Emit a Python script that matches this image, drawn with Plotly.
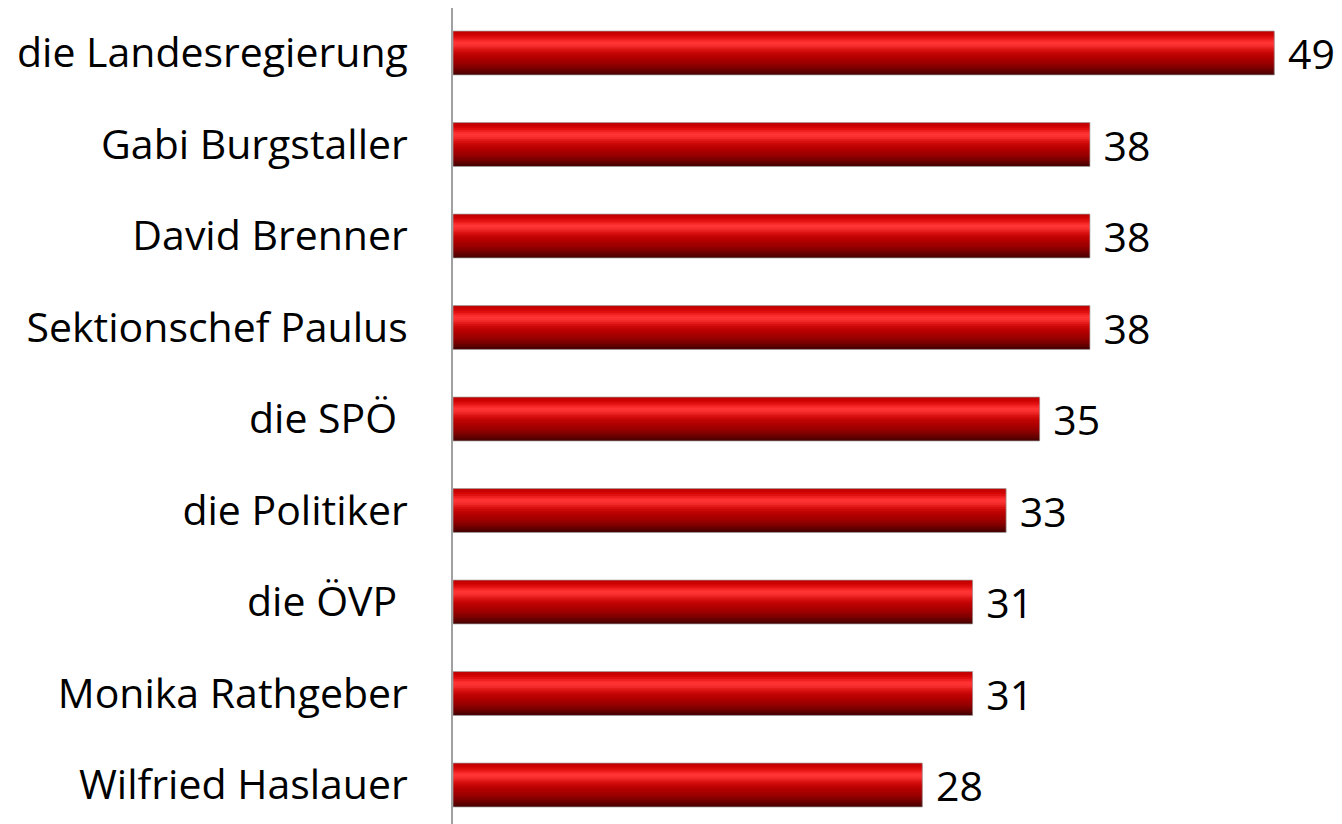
import plotly.graph_objects as go

categories = ["die Landesregierung", "Gabi Burgstaller", "David Brenner", "Sektionschef Paulus",
              "die SPÖ\u00a0", "die Politiker", "die ÖVP\u00a0", "Monika Rathgeber", "Wilfried Haslauer"]
values = [49, 38, 38, 38, 35, 33, 31, 31, 28]

# vertical gradient stripes for the bar (top -> bottom)
stripe_colors = ["#c20000", "#ca0202", "#d40606", "#e01010", "#ee1e1e", "#fa2c2c", "#ff3434",
                 "#fa3030", "#f02828", "#e41c1c", "#d81010", "#cc0808", "#c20404", "#ba0202",
                 "#b20000", "#aa0000", "#a20000", "#9a0000", "#900000", "#840000", "#760000",
                 "#680000", "#5a0000", "#4c0000"]
bar_h = 0.48
n = len(stripe_colors)
sh = bar_h / n

fig = go.Figure()
for i, c in enumerate(stripe_colors):
    w = sh * 1.8 if i < n - 1 else sh
    fig.add_trace(go.Bar(
        x=values, y=categories, orientation="h",
        offset=-bar_h / 2 + i * sh, width=w,
        marker=dict(color=c, line=dict(width=0)),
        hoverinfo="skip", showlegend=False,
    ))

# thin outline
fig.add_trace(go.Bar(
    x=values, y=categories, orientation="h",
    offset=-bar_h / 2, width=bar_h,
    marker=dict(color="rgba(0,0,0,0)", line=dict(width=1, color="rgba(160,160,160,0.7)")),
    hoverinfo="skip", showlegend=False,
))

# value labels
fig.add_trace(go.Bar(
    x=values, y=categories, orientation="h",
    offset=-0.45, width=0.9,
    marker=dict(color="rgba(0,0,0,0)", line=dict(width=0)),
    text=values, texttemplate="\u00a0%{x}", textposition="outside", constraintext="none",
    textfont=dict(size=41, color="#000000", family="Open Sans"),
    cliponaxis=False, showlegend=False,
))

fig.update_layout(
    width=1334, height=816,
    barmode="overlay",
    margin=dict(l=445, r=0, t=0, b=0, autoexpand=False),
    plot_bgcolor="white", paper_bgcolor="white",
    font=dict(family="Open Sans", size=41, color="#000000"),
    xaxis=dict(range=[0, 53.04], showgrid=False, zeroline=False, showticklabels=False,
               showline=False),
    yaxis=dict(categoryorder="array", categoryarray=categories,
               range=[8.426, -0.492], showgrid=False, zeroline=False,
               showline=True, linecolor="#a0a0a0", linewidth=2,
               ticks="outside", ticklen=35, tickcolor="rgba(0,0,0,0)",
               tickfont=dict(size=41, family="Open Sans", color="#000000")),
)

fig.write_html("out.html")
